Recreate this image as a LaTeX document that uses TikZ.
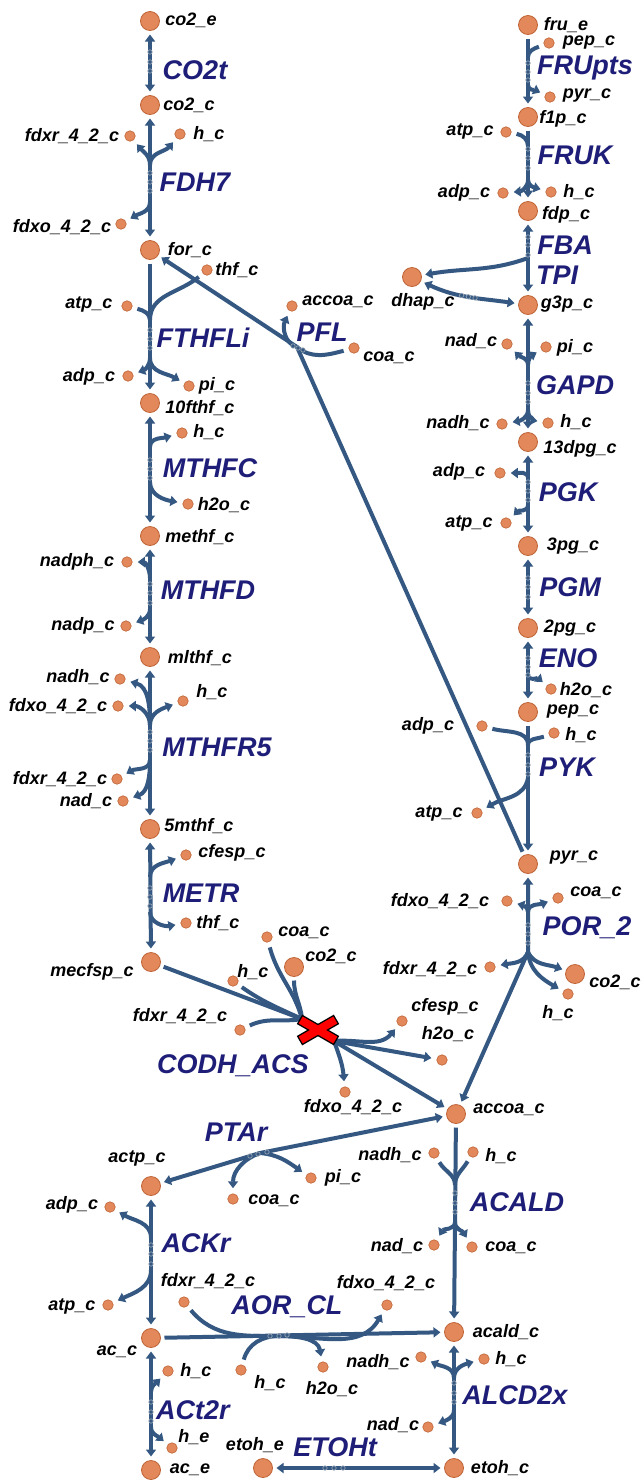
\documentclass[tikz,border=0pt]{standalone}
\usepackage{fontspec}
\setmainfont{Liberation Sans}
\usetikzlibrary{arrows.meta}
\definecolor{rxn}{RGB}{52,88,130}
\definecolor{rxntext}{RGB}{30,30,120}
\definecolor{metfill}{RGB}{226,136,90}
\definecolor{metdraw}{RGB}{190,100,55}
\definecolor{dotgray}{RGB}{150,162,178}
\newcommand{\mlabfont}{\fontsize{18}{18}\selectfont\bfseries\itshape}
\newcommand{\rlabfont}{\fontsize{27}{27}\selectfont\bfseries\itshape}
\begin{document}
\begin{tikzpicture}[x=1pt,y=1pt,
  >={Triangle[length=7pt,width=10pt]},
  met/.style={circle,fill=metfill,draw=metdraw,line width=0.8pt,minimum size=19pt,inner sep=0pt,outer sep=4pt},
  sm/.style={circle,fill=metfill,draw=metdraw,line width=0.6pt,minimum size=10.5pt,inner sep=0pt,outer sep=5.5pt},
  lab/.style={font=\mlabfont,text=black,inner sep=0pt},
  rlab/.style={font=\rlabfont,text=rxntext,inner sep=0pt},
  rx/.style={draw=rxn,line width=4pt,line join=round},
  rdot/.style={draw=dotgray,fill=rxn,line width=0.7pt}]
\fill[white] (0,-1481) rectangle (643,0);
\useasboundingbox (0,-1481) rectangle (643,0);

% ---------- main metabolites ----------
\node[met] (co2e) at (150,-21) {};
\node[met] (co2c) at (150,-105) {};
\node[met] (forc) at (150,-250) {};
\node[met] (fthf) at (150,-403) {};
\node[met] (methf) at (150,-536) {};
\node[met] (mlthf) at (150,-657) {};
\node[met] (mthf) at (150,-829) {};
\node[met] (mecfsp) at (151,-962) {};
\node[met] (co2x) at (294,-967) {};
\node[met] (accoa) at (456,-1114) {};
\node[met] (actp) at (151,-1186) {};
\node[met] (acc) at (151,-1338) {};
\node[met] (ace) at (151,-1470) {};
\node[met] (etohe) at (263,-1468) {};
\node[met] (etohc) at (454,-1468) {};
\node[met] (acald) at (454,-1332) {};
\node[met] (frue) at (528,-25) {};
\node[met] (fonep) at (528,-117) {};
\node[met] (fdp) at (528,-211) {};
\node[met] (dhap) at (412,-277) {};
\node[met] (gtp) at (528,-305) {};
\node[met] (dpg) at (528,-442) {};
\node[met] (tpg) at (528,-546) {};
\node[met] (ppg) at (528,-628) {};
\node[met] (pep) at (528,-712) {};
\node[met] (pyr) at (528,-864) {};
\node[met] (co2p) at (575,-974) {};

% ---------- small metabolites ----------
\node[sm] (fdhFdxr) at (130,-136) {};
\node[sm] (fdhH) at (180,-134) {};
\node[sm] (fdhFdxo) at (121,-224) {};
\node[sm] (ftThf) at (207,-270) {};
\node[sm] (ftAtp) at (127,-306) {};
\node[sm] (ftAdp) at (128,-376) {};
\node[sm] (ftPi) at (189,-386) {};
\node[sm] (pflAccoa) at (292,-306) {};
\node[sm] (pflCoa) at (354,-348) {};
\node[sm] (mcH) at (182,-433) {};
\node[sm] (mcH2o) at (188,-504) {};
\node[sm] (mdNadph) at (127,-562) {};
\node[sm] (mdNadp) at (126,-626) {};
\node[sm] (mrNadh) at (120,-679) {};
\node[sm] (mrFdxo) at (118,-706) {};
\node[sm] (mrH) at (183,-701) {};
\node[sm] (mrFdxr) at (117,-779) {};
\node[sm] (mrNad) at (123,-801) {};
\node[sm] (meCfesp) at (186,-855) {};
\node[sm] (meThf) at (186,-923) {};
\node[sm] (cdCoa) at (267,-937) {};
\node[sm] (cdH) at (233,-981) {};
\node[sm] (cdFdxr) at (240,-1030) {};
\node[sm] (cdCfesp) at (402,-1021) {};
\node[sm] (cdH2o) at (442,-1060) {};
\node[sm] (cdFdxo) at (345,-1092) {};
\node[sm] (poFdxo) at (507,-901) {};
\node[sm] (poCoa) at (558,-898) {};
\node[sm] (poFdxr) at (490,-967) {};
\node[sm] (poH) at (568,-994) {};
\node[sm] (ptPi) at (311,-1178) {};
\node[sm] (ptCoa) at (233,-1199) {};
\node[sm] (akAdp) at (110,-1207) {};
\node[sm] (akAtp) at (108,-1305) {};
\node[sm] (aoFdxr) at (184,-1302) {};
\node[sm] (aoFdxo) at (387,-1305) {};
\node[sm] (aoH) at (241,-1370) {};
\node[sm] (aoH2o) at (323,-1367) {};
\node[sm] (atH) at (168,-1371) {};
\node[sm] (atHe) at (172,-1448) {};
\node[sm] (acNadh) at (434,-1153) {};
\node[sm] (acH) at (473,-1152) {};
\node[sm] (acNad) at (434,-1245) {};
\node[sm] (acCoa) at (472,-1247) {};
\node[sm] (alNadh) at (421,-1357) {};
\node[sm] (alH) at (484,-1359) {};
\node[sm] (alNad) at (428,-1427) {};
\node[sm] (fpPep) at (549,-43) {};
\node[sm] (fpPyr) at (550,-97) {};
\node[sm] (fkAtp) at (506,-132) {};
\node[sm] (fkAdp) at (503,-193) {};
\node[sm] (fkH) at (551,-192) {};
\node[sm] (gaNad) at (507,-344) {};
\node[sm] (gaPi) at (546,-347) {};
\node[sm] (gaNadh) at (502,-424) {};
\node[sm] (gaH) at (548,-423) {};
\node[sm] (pkAdp) at (500,-473) {};
\node[sm] (pkAtp) at (506,-523) {};
\node[sm] (enH2o) at (551,-689) {};
\node[sm] (pyAdp) at (482,-726) {};
\node[sm] (pyH) at (554,-733) {};
\node[sm] (pyAtp) at (477,-813) {};

% ---------- metabolite labels ----------
\node[lab] (Lco2e) at (191,-20) {co2\_e};
\node[lab] (Lco2c) at (189,-105) {co2\_c};
\node[lab] (LfdhFdxr) at (72,-136) {fdxr\_4\_2\_c};
\node[lab] (LfdhH) at (209,-134) {h\_c};
\node[lab] (LfdhFdxo) at (62,-227) {fdxo\_4\_2\_c};
\node[lab] (Lforc) at (190,-250) {for\_c};
\node[lab] (LftThf) at (237,-270) {thf\_c};
\node[lab] (LftAtp) at (89,-304) {atp\_c};
\node[lab] (LpflAccoa) at (338,-302) {accoa\_c};
\node[lab] (LpflCoa) at (389,-358) {coa\_c};
\node[lab] (LftAdp) at (89,-377) {adp\_c};
\node[lab] (LftPi) at (217,-386) {pi\_c};
\node[lab] (Lfthf) at (200,-408) {10fthf\_c};
\node[lab] (LmcH) at (209,-432) {h\_c};
\node[lab] (LmcH2o) at (224,-505) {h2o\_c};
\node[lab] (Lmethf) at (200,-537) {methf\_c};
\node[lab] (LmdNadph) at (77,-562) {nadph\_c};
\node[lab] (LmdNadp) at (83,-626) {nadp\_c};
\node[lab] (Lmlthf) at (200,-658) {mlthf\_c};
\node[lab] (LmrNadh) at (78,-677) {nadh\_c};
\node[lab] (LmrFdxo) at (58,-706) {fdxo\_4\_2\_c};
\node[lab] (LmrH) at (212,-692) {h\_c};
\node[lab] (LmrFdxr) at (60,-779) {fdxr\_4\_2\_c};
\node[lab] (LmrNad) at (86,-801) {nad\_c};
\node[lab] (Lmthf) at (199,-826) {5mthf\_c};
\node[lab] (LmeCfesp) at (232,-853) {cfesp\_c};
\node[lab] (LmeThf) at (218,-923) {thf\_c};
\node[lab] (Lmecfsp) at (92,-972) {mecfsp\_c};
\node[lab] (LcdH) at (253,-972) {h\_c};
\node[lab] (LcdCoa) at (304,-933) {coa\_c};
\node[lab] (Lco2x) at (331,-956) {co2\_c};
\node[lab] (LcdFdxr) at (180,-1016) {fdxr\_4\_2\_c};
\node[lab] (LcdCfesp) at (445,-1007) {cfesp\_c};
\node[lab] (LcdH2o) at (448,-1034) {h2o\_c};
\node[lab] (LcdFdxo) at (353,-1107) {fdxo\_4\_2\_c};
\node[lab] (Laccoa) at (509,-1110) {accoa\_c};
\node[lab] (Lfrue) at (566,-25) {fru\_e};
\node[lab] (LfpPep) at (589,-43) {pep\_c};
\node[lab] (LfpPyr) at (587,-96) {pyr\_c};
\node[lab] (Lfonep) at (563,-119) {f1p\_c};
\node[lab] (LfkAtp) at (470,-131) {atp\_c};
\node[lab] (LfkAdp) at (464,-193) {adp\_c};
\node[lab] (LfkH) at (579,-192) {h\_c};
\node[lab] (Lfdp) at (566,-215) {fdp\_c};
\node[lab] (Ldhap) at (423,-302) {dhap\_c};
\node[lab] (Lgtp) at (567,-304) {g3p\_c};
\node[lab] (LgaNad) at (471,-341) {nad\_c};
\node[lab] (LgaPi) at (575,-348) {pi\_c};
\node[lab] (LgaNadh) at (458,-423) {nadh\_c};
\node[lab] (LgaH) at (576,-422) {h\_c};
\node[lab] (Ldpg) at (580,-449) {13dpg\_c};
\node[lab] (LpkAdp) at (459,-472) {adp\_c};
\node[lab] (LpkAtp) at (469,-523) {atp\_c};
\node[lab] (Ltpg) at (573,-546) {3pg\_c};
\node[lab] (Lppg) at (570,-628) {2pg\_c};
\node[lab] (LenH2o) at (586,-690) {h2o\_c};
\node[lab] (Lpep) at (573,-712) {pep\_c};
\node[lab] (LpyAdp) at (428,-726) {adp\_c};
\node[lab] (LpyH) at (581,-735) {h\_c};
\node[lab] (LpyAtp) at (439,-813) {atp\_c};
\node[lab] (Lpyr) at (574,-858) {pyr\_c};
\node[lab] (LpoFdxo) at (440,-901) {fdxo\_4\_2\_c};
\node[lab] (LpoCoa) at (596,-893) {coa\_c};
\node[lab] (LpoFdxr) at (430,-969) {fdxr\_4\_2\_c};
\node[lab] (Lco2p) at (615,-982) {co2\_c};
\node[lab] (LpoH) at (558,-1013) {h\_c};
\node[lab] (Lactp) at (137,-1158) {actp\_c};
\node[lab] (LptPi) at (343,-1178) {pi\_c};
\node[lab] (LptCoa) at (274,-1201) {coa\_c};
\node[lab] (LakAdp) at (72,-1205) {adp\_c};
\node[lab] (LaoFdxr) at (208,-1281) {fdxr\_4\_2\_c};
\node[lab] (LakAtp) at (72,-1306) {atp\_c};
\node[lab] (LaoFdxo) at (386,-1283) {fdxo\_4\_2\_c};
\node[lab] (Lacc) at (117,-1352) {ac\_c};
\node[lab] (Lacald) at (506,-1332) {acald\_c};
\node[lab] (LatH) at (196,-1371) {h\_c};
\node[lab] (LaoH) at (270,-1383) {h\_c};
\node[lab] (LaoH2o) at (332,-1389) {h2o\_c};
\node[lab] (LalNadh) at (378,-1362) {nadh\_c};
\node[lab] (LalH) at (511,-1359) {h\_c};
\node[lab] (LalNad) at (393,-1425) {nad\_c};
\node[lab] (LatHe) at (194,-1437) {h\_e};
\node[lab] (Letohe) at (255,-1445) {etoh\_e};
\node[lab] (Lace) at (190,-1470) {ac\_e};
\node[lab] (Letohc) at (500,-1468) {etoh\_c};
\node[lab] (LacNadh) at (390,-1155) {nadh\_c};
\node[lab] (LacH) at (501,-1156) {h\_c};
\node[lab] (LacNad) at (397,-1246) {nad\_c};
\node[lab] (LacCoa) at (511,-1248) {coa\_c};

% ---------- reaction labels ----------
\node[rlab] (RCOt) at (195,-70) {CO2t};
\node[rlab] (RFDH) at (195,-182) {FDH7};
\node[rlab] (RFTHFLi) at (203,-338) {FTHFLi};
\node[rlab] (RPFL) at (322,-332) {PFL};
\node[rlab] (RMTHFC) at (210,-468) {MTHFC};
\node[rlab] (RMTHFD) at (208,-590) {MTHFD};
\node[rlab] (RMTHFR) at (217,-747) {MTHFR5};
\node[rlab] (RMETR) at (201,-893) {METR};
\node[rlab] (RCODH) at (233,-1066) {CODH\_ACS};
\node[rlab] (RFRUpts) at (585,-68) {FRUpts};
\node[rlab] (RFRUK) at (575,-155) {FRUK};
\node[rlab] (RFBA) at (565,-245) {FBA};
\node[rlab] (RTPI) at (557,-275) {TPI};
\node[rlab] (RGAPD) at (575,-385) {GAPD};
\node[rlab] (RPGK) at (568,-492) {PGK};
\node[rlab] (RPGM) at (570,-587) {PGM};
\node[rlab] (RENO) at (568,-658) {ENO};
\node[rlab] (RPYK) at (567,-767) {PYK};
\node[rlab] (RPOR) at (587,-928) {POR\_2};
\node[rlab] (RPTAr) at (236,-1132) {PTAr};
\node[rlab] (RACKr) at (196,-1243) {ACKr};
\node[rlab] (RAOR) at (287,-1307) {AOR\_CL};
\node[rlab] (RACALD) at (517,-1202) {ACALD};
\node[rlab] (RACt) at (193,-1410) {ACt2r};
\node[rlab] (RALCD) at (515,-1395) {ALCD2x};
\node[rlab] (RETOHt) at (335,-1447) {ETOHt};

% ---------- junctions ----------
\coordinate (jfdhA) at (150,-165); \coordinate (jfdhB) at (150,-202);
\coordinate (jftA) at (150,-320); \coordinate (jftB) at (150,-358);
\coordinate (jpfl) at (297,-347);
\coordinate (jmcA) at (150,-447); \coordinate (jmcB) at (150,-482);
\coordinate (jmdA) at (150,-578); \coordinate (jmdB) at (150,-609);
\coordinate (jmrA) at (150,-725); \coordinate (jmrB) at (150,-760);
\coordinate (jmeA) at (150,-877); \coordinate (jmeB) at (150,-912);
\coordinate (jin) at (302,-1019); \coordinate (jout) at (334,-1041);
\coordinate (jpoA) at (528,-912); \coordinate (jpoB) at (528,-952);
\coordinate (jpta) at (260,-1153);
\coordinate (jakA) at (151,-1238); \coordinate (jakB) at (151,-1270);
\coordinate (jaor) at (279,-1336);
\coordinate (jatA) at (151,-1392); \coordinate (jatB) at (151,-1427);
\coordinate (jalA) at (454,-1378); \coordinate (jalB) at (454,-1410);
\coordinate (jacA) at (455,-1185); \coordinate (jacB) at (455,-1222);
\coordinate (jfpA) at (528,-57); \coordinate (jfpB) at (528,-85);
\coordinate (jfkA) at (528,-146); \coordinate (jfkB) at (528,-180);
\coordinate (jfba) at (528,-258);
\coordinate (jgaA) at (528,-365); \coordinate (jgaB) at (528,-410);
\coordinate (jpkA) at (528,-478); \coordinate (jpkB) at (528,-505);
\coordinate (jeno) at (528,-675);
\coordinate (jpyA) at (528,-745); \coordinate (jpyB) at (528,-778);

% ---------- reactions, left column ----------
% CO2t
\draw[rx,<->] (co2e) -- (co2c);
% FDH7
\draw[rx,<->] (co2c) -- (forc);
\draw[rx,->] (jfdhA) to[out=90,in=-50] (fdhFdxr);
\draw[rx,->] (jfdhA) to[out=90,in=-130] (fdhH);
\draw[rx,->] (jfdhB) to[out=-90,in=30] (fdhFdxo);
% FTHFLi
\draw[rx,->] (forc) -- (fthf);
\draw[rx] (jftA) to[out=90,in=-15] (ftAtp);
\draw[rx] (jftA) to[out=90,in=-140] (ftThf);
\draw[rx,->] (jftB) to[out=-90,in=20] (ftAdp);
\draw[rx,->] (jftB) to[out=-90,in=150] (ftPi);
% PFL
\draw[rx,->] (pyr) -- (jpfl) -- (forc);
\draw[rx,->] (jpfl) to[out=165,in=-115] (pflAccoa);
\draw[rx] (jpfl) to[out=-40,in=195] (pflCoa);
% MTHFC
\draw[rx,<->] (fthf) -- (methf);
\draw[rx,->] (jmcA) to[out=90,in=-165] (mcH);
\draw[rx,->] (jmcB) to[out=-90,in=170] (mcH2o);
% MTHFD
\draw[rx,<->] (methf) -- (mlthf);
\draw[rx,->] (jmdA) to[out=90,in=0] (mdNadph);
\draw[rx,->] (jmdB) to[out=-90,in=20] (mdNadp);
% MTHFR5
\draw[rx,<->] (mlthf) -- (mthf);
\draw[rx,->] (jmrA) to[out=90,in=-15] (mrNadh);
\draw[rx,->] (jmrA) to[out=90,in=0] (mrFdxo);
\draw[rx,->] (jmrA) to[out=90,in=-160] (mrH);
\draw[rx,->] (jmrB) to[out=-90,in=30] (mrFdxr);
\draw[rx,->] (jmrB) to[out=-90,in=20] (mrNad);
% METR
\draw[rx,<->] (mthf) -- (mecfsp);
\draw[rx,->] (jmeA) to[out=90,in=-160] (meCfesp);
\draw[rx,->] (jmeB) to[out=-90,in=190] (meThf);
% CODH_ACS
\draw[rx] (mecfsp) -- (jin);
\draw[rx] (cdH) to[out=-35,in=155] (jin);
\draw[rx] (cdCoa) to[out=-75,in=105] (jin);
\draw[rx] (co2x) to[out=-90,in=95] (jin);
\draw[rx] (cdFdxr) to[out=25,in=190] (jin);
\draw[rx,->] (jout) to[out=5,in=-130] (cdCfesp);
\draw[rx,->] (jout) -- (cdH2o);
\draw[rx,->] (jout) to[out=-70,in=95] (cdFdxo);
\draw[rx,->] (jout) -- (accoa);

% ---------- right column ----------
% FRUpts
\draw[rx,->] (frue) -- (fonep);
\draw[rx] (jfpA) to[out=90,in=-160] (fpPep);
\draw[rx,->] (jfpB) to[out=-90,in=155] (fpPyr);
% FRUK
\draw[rx,->] (fonep) -- (fdp);
\draw[rx] (jfkA) to[out=90,in=-10] (fkAtp);
\draw[rx,->] (jfkB) to[out=-90,in=5] (fkAdp);
\draw[rx,->] (jfkB) to[out=-90,in=165] (fkH);
% FBA
\draw[rx,<->] (fdp) -- (gtp);
\draw[rx,->] (jfba) to[out=200,in=10] (dhap);
% TPI
\draw[rx,<->] (dhap) to[out=-25,in=172] coordinate[pos=.42] (tpiA) coordinate[pos=.5] (tpiB) coordinate[pos=.58] (tpiC) (gtp);
% GAPD
\draw[rx,<->] (gtp) -- (dpg);
\draw[rx,->] (jgaA) to[out=90,in=-45] (gaNad);
\draw[rx,->] (jgaA) to[out=90,in=-150] (gaPi);
\draw[rx,->] (jgaB) to[out=-90,in=10] (gaNadh);
\draw[rx,->] (jgaB) to[out=-90,in=170] (gaH);
% PGK
\draw[rx,<->] (dpg) -- (tpg);
\draw[rx,->] (jpkA) to[out=90,in=0] (pkAdp);
\draw[rx,->] (jpkB) to[out=-90,in=45] (pkAtp);
% PGM
\draw[rx,<->] (tpg) -- (ppg);
% ENO
\draw[rx,<->] (ppg) -- (pep);
\draw[rx,->] (jeno) to[out=-90,in=140] (enH2o);
% PYK
\draw[rx,->] (pep) -- (pyr);
\draw[rx] (jpyA) to[out=90,in=-15] (pyAdp);
\draw[rx] (jpyA) to[out=90,in=-160] (pyH);
\draw[rx,->] (jpyB) to[out=-100,in=30] (pyAtp);
% POR_2
\draw[rx,<->] (pyr) -- (jpoB) -- (accoa);
\draw[rx,->] (jpoA) to[out=90,in=-15] (poFdxo);
\draw[rx,->] (jpoA) to[out=90,in=-160] (poCoa);
\draw[rx,->] (jpoB) to[out=-110,in=10] (poFdxr);
\draw[rx,->] (jpoB) to[out=-65,in=160] (co2p);
\draw[rx,->] (jpoB) to[out=-85,in=150] (poH);

% ---------- bottom ----------
% PTAr
\draw[rx,<->] (accoa) -- (jpta) -- (actp);
\draw[rx,->] (jpta) to[out=200,in=90] (ptCoa);
\draw[rx,->] (jpta) to[out=-5,in=145] (ptPi);
% ACKr
\draw[rx,<->] (actp) -- (acc);
\draw[rx,->] (jakA) to[out=90,in=-30] (akAdp);
\draw[rx,->] (jakB) to[out=-90,in=25] (akAtp);
% AOR_CL
\draw[rx,->] (acc) -- (acald);
\draw[rx] (jaor) to[out=180,in=-50] (aoFdxr);
\draw[rx] (jaor) to[out=180,in=75] (aoH);
\draw[rx,->] (jaor) to[out=0,in=-120] (aoFdxo);
\draw[rx,->] (jaor) to[out=0,in=100] (aoH2o);
% ACt2r
\draw[rx,<->] (acc) -- (ace);
\draw[rx,->] (jatA) to[out=90,in=-135] (atH);
\draw[rx,->] (jatB) to[out=-90,in=140] (atHe);
% ETOHt
\draw[rx,<->] (etohe) -- (etohc);
% ALCD2x
\draw[rx,<->] (acald) -- (etohc);
\draw[rx,->] (jalA) to[out=90,in=-25] (alNadh);
\draw[rx,->] (jalA) to[out=90,in=-165] (alH);
\draw[rx,->] (jalB) to[out=-90,in=20] (alNad);
% ACALD
\draw[rx,->] (accoa) -- (acald);
\draw[rx] (jacA) to[out=90,in=-60] (acNadh);
\draw[rx] (jacA) to[out=90,in=-120] (acH);
\draw[rx,->] (jacB) to[out=-90,in=60] (acNad);
\draw[rx,->] (jacB) to[out=-90,in=120] (acCoa);

% ---------- reaction midpoint markers ----------
\foreach \x/\y in {150/52,150/62,150/71, 150/173,150/182,150/191, 150/330,150/339,150/348,
  293/346,298/348,303/350, 150/460,150/469,150/478, 150/584,150/593,150/603,
  150/732,150/741,150/750, 150/888,150/897,150/906,
  528/63,528/72,528/80, 528/149,528/158,528/168, 528/237,528/245,528/255,
  528/383,528/393,528/402, 528/482,528/491,528/500, 528/578,528/587,528/597,
  528/658,528/667,528/675, 528/755,528/765,528/774, 528/925,528/934,528/943,
  250/1156,258/1154,267/1152, 151/1245,151/1254,151/1264,
  270/1336,279/1336,287/1335, 151/1402,151/1412,151/1421,
  454/1383,454/1393,454/1402, 455/1193,455/1203,455/1212,
  325/1468,334/1468,343/1468}
  \draw[rdot] (\x,-\y) circle (2.2pt);
\foreach \c in {tpiA,tpiB,tpiC} \draw[rdot] (\c) circle (2.2pt);

% ---------- red cross on CODH_ACS ----------
\begin{scope}[shift={(318,-1030)}]
  \foreach \a in {30,-30} \draw[black,line width=2.8pt,rotate=\a] (-20,-4) rectangle (20,4);
  \foreach \a in {30,-30} \fill[red,rotate=\a] (-20,-4) rectangle (20,4);
\end{scope}
\end{tikzpicture}
\end{document}
